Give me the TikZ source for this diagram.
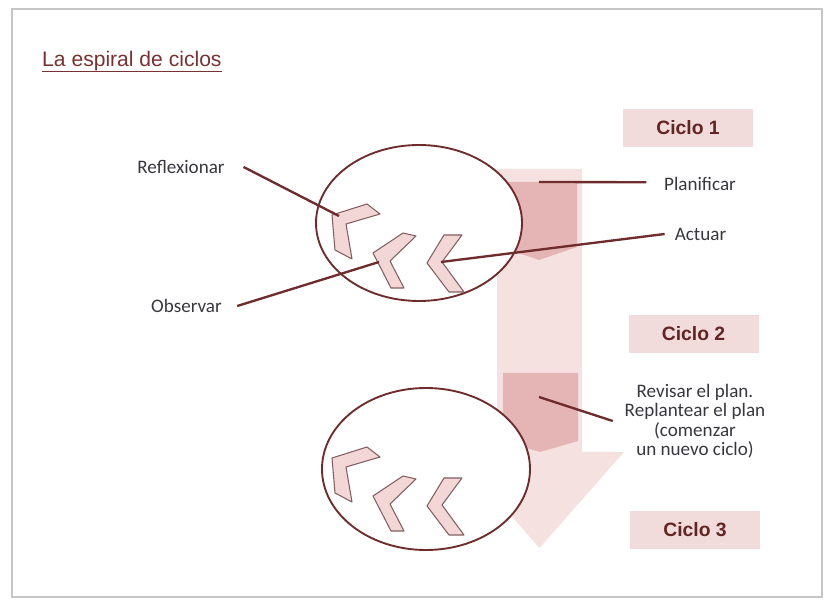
\documentclass[tikz,border=0pt]{standalone}
\usepackage{fontspec}
\setmainfont{Carlito}
\newfontfamily\arialfont{Liberation Sans}

\definecolor{linebrown}{RGB}{110,44,44}
\definecolor{arrowlight}{RGB}{246,225,225}
\definecolor{arrowdark}{RGB}{229,180,180}
\definecolor{boxpink}{RGB}{242,220,219}
\definecolor{chevfill}{RGB}{243,215,215}
\definecolor{chevline}{RGB}{130,95,95}
\definecolor{ciclotext}{RGB}{99,37,35}
\definecolor{titletext}{RGB}{120,50,50}
\definecolor{labeltext}{RGB}{55,55,62}

\tikzset{
  ciclobox/.style={fill=boxpink, minimum width=3.9cm, minimum height=1.14cm, inner sep=0pt,
    text=ciclotext, font=\arialfont\bfseries\fontsize{16.5}{19}\selectfont},
  steplabel/.style={inner sep=0pt, text=labeltext, align=center,
    font=\fontsize{16.3}{16.6}\selectfont},
  conn/.style={draw=linebrown, line width=2pt},
  chevron/.style={fill=chevfill, draw=chevline, line width=0.9pt, line join=round},
  loopellipse/.style={draw=linebrown, line width=1.6pt, fill=white},
}

\begin{document}
\begin{tikzpicture}[x=0.03cm,y=-0.03cm]
\useasboundingbox (0,0) rectangle (829,601);
% frame of the slide
\draw[gray!45, line width=1.2pt] (12,9) rectangle (822,597);

%----------------------------
% Title
%----------------------------
\node[anchor=base west, inner sep=0pt, text=titletext,
  font=\arialfont\fontsize{18}{21}\selectfont] (title) at (42,67) {La espiral de ciclos};
\draw[titletext, line width=1.6pt] ([yshift=-3.8pt]title.base west) -- ([yshift=-3.8pt]title.base east);

%----------------------------
% Big arrow through the cycles
%----------------------------
\fill[arrowlight] (497,169) -- (582,169) -- (582,452) -- (624,452) -- (539.5,548)
  -- (455,452) -- (497,452) -- cycle;
% darker inner arrows
\fill[arrowdark] (501,182) -- (577,182) -- (577,247) -- (539,260) -- (501,247) -- cycle;
\fill[arrowdark] (503,373) -- (578,373) -- (578,441) -- (540,452) -- (503,441) -- cycle;

%----------------------------
% The two cycles
%----------------------------
\draw[loopellipse] (419,223) ellipse [x radius=3.09cm, y radius=2.34cm];
\draw[loopellipse] (426,469) ellipse [x radius=3.12cm, y radius=2.43cm];

% three chevrons in each cycle
\foreach \dy in {0,243}{
  \begin{scope}[shift={(0,\dy)}]
    \draw[chevron] (332,215) -- (367,204) -- (380,214) -- (346,224) -- (352,259) -- (335,250) -- cycle;
    \draw[chevron] (373,253) -- (403,233) -- (416,236) -- (390,261) -- (404,288) -- (391,288) -- cycle;
    \draw[chevron] (427,263) -- (444,235) -- (462,235) -- (442,262) -- (464,292) -- (449,292) -- cycle;
  \end{scope}
}

%----------------------------
% Cycle boxes and labels
%----------------------------
\node[ciclobox] (ciclo1) at (688,128) {Ciclo 1};
\node[ciclobox] (ciclo2) at (693.5,334) {Ciclo 2};
\node[ciclobox] (ciclo3) at (695,530) {Ciclo 3};

\node[steplabel] (reflexionar) at (181,167) {Reflexionar};
\node[steplabel] (observar) at (186.5,306) {Observar};
\node[steplabel] (planificar) at (700,184) {Planificar};
\node[steplabel] (actuar) at (700.5,234) {Actuar};
\node[steplabel] (revisar) at (695,421) {Revisar el plan.\\ Replantear el plan\\ (comenzar\\ un nuevo ciclo)};

% where the connectors end
\coordinate (refl-end) at (339,216);
\coordinate (obs-end) at (379,262);
\coordinate (plan-end) at (539,182);
\coordinate (act-end) at (441,262);
\coordinate (rev-end) at (539,397);

%----------------------------
% Connectors
%----------------------------
\draw[conn] ([xshift=16pt]reflexionar.east) -- (refl-end);
\draw[conn] ([xshift=13pt]observar.east) -- (obs-end);
\draw[conn] ([xshift=-15pt,yshift=1.5pt]planificar.west) -- (plan-end);
\draw[conn] ([xshift=-8.5pt]actuar.west) -- (act-end);
\draw[conn] ([xshift=-10pt]revisar.west) -- (rev-end);
\end{tikzpicture}
\end{document}
